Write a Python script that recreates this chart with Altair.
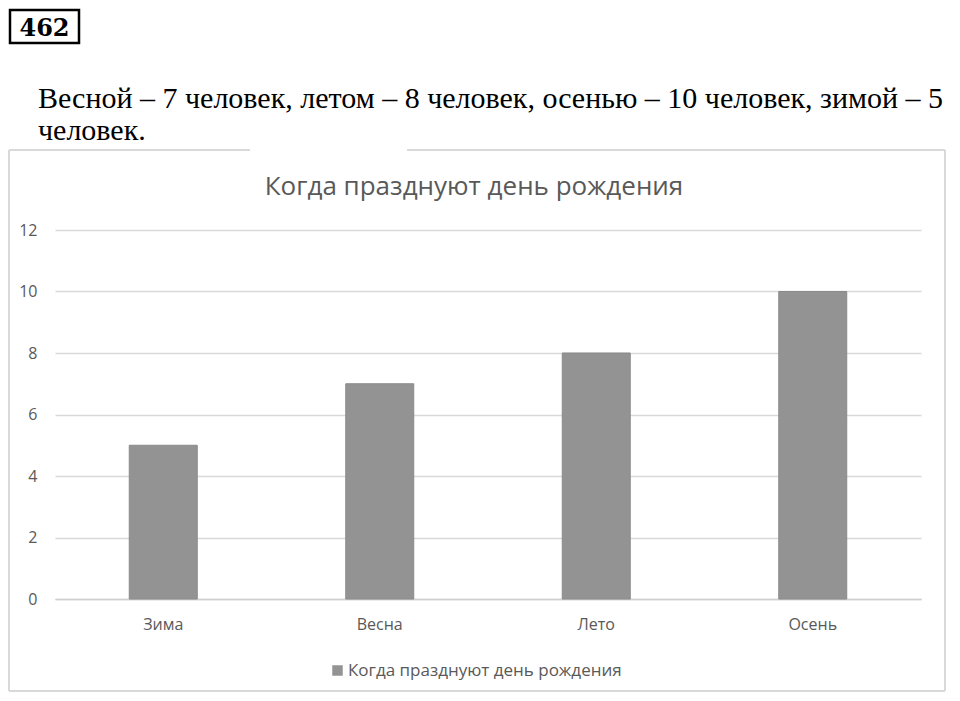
import pandas as pd
import altair as alt

SEASONS = ["Зима", "Весна", "Лето", "Осень"]
COUNTS = [5, 7, 8, 10]
SERIES = "Когда празднуют день рождения"
Y_TICKS = [0, 2, 4, 6, 8, 10, 12]

TASK_NUMBER = "462"
TEXT_LINE_1 = "Весной – 7 человек, летом – 8 человек, осенью – 10 человек, зимой – 5"
TEXT_LINE_2 = "человек."

BAR_COLOR = "#939393"
GRID_COLOR = "#d9d9d9"
LABEL_COLOR = "#595959"
FRAME_COLOR = "#d9d9d9"
SANS = "Open Sans"
SERIF = "Liberation Serif"

# plot area sits at (55, 230) on the page, 866 x 369
OX, OY = 55, 230
PLOT_W, PLOT_H = 866, 369


def text_layer(label, x, y, size, font, color="black", weight="normal", align="left"):
    # x, y in page pixels
    return (
        alt.Chart(pd.DataFrame({"label": [label]}))
        .mark_text(
            font=font, fontSize=size, fontWeight=weight, color=color,
            align=align, baseline="alphabetic",
        )
        .encode(x=alt.value(x - OX), y=alt.value(y - OY), text="label:N")
    )


def rule_layer(x, x2, y, y2, color, width):
    return (
        alt.Chart(pd.DataFrame({"k": [0]}))
        .mark_rule(color=color, strokeWidth=width)
        .encode(
            x=alt.value(x - OX), x2=alt.value(x2 - OX),
            y=alt.value(y - OY), y2=alt.value(y2 - OY),
        )
    )


df = pd.DataFrame({"season": SEASONS, "count": COUNTS, "series": [SERIES] * len(SEASONS)})

bars = (
    alt.Chart(df)
    .mark_bar(stroke="#8a8a8a", strokeWidth=1)
    .encode(
        x=alt.X("season:N", sort=SEASONS, title=None)
        .scale(paddingInner=0.686, paddingOuter=0.343)
        .axis(
            labelAngle=0, labelFont=SANS, labelFontSize=16, labelColor=LABEL_COLOR,
            ticks=False, domainColor="#cfcfcf", domainWidth=1.5, labelPadding=17,
        ),
        y=alt.Y("count:Q", title=None)
        .scale(domain=[0, 12])
        .axis(
            values=Y_TICKS, labelFont=SANS, labelFontSize=16, labelColor=LABEL_COLOR,
            ticks=False, domain=False, labelPadding=18,
            gridColor=GRID_COLOR, gridWidth=1.5,
        ),
        color=alt.Color("series:N", title=None)
        .scale(range=[BAR_COLOR])
        .legend(
            orient="none", legendX=274, legendY=432, direction="horizontal",
            symbolType="square", symbolSize=110, symbolStrokeWidth=0,
            labelFont=SANS, labelFontSize=17, labelColor=LABEL_COLOR,
            labelOffset=2, labelLimit=0,
        ),
    )
)

# frame around the chart (top edge broken, as on the page)
frame = [
    rule_layer(9, 9, 150, 691, FRAME_COLOR, 2),
    rule_layer(945, 945, 150, 691, FRAME_COLOR, 2),
    rule_layer(9, 945, 691, 691, FRAME_COLOR, 2),
    rule_layer(9, 250, 150, 150, FRAME_COLOR, 2),
    rule_layer(407, 945, 150, 150, FRAME_COLOR, 2),
]

number_box = (
    alt.Chart(pd.DataFrame({"k": [0]}))
    .mark_rect(fill="white", stroke="black", strokeWidth=2.5)
    .encode(
        x=alt.value(10 - OX), x2=alt.value(79 - OX),
        y=alt.value(10 - OY), y2=alt.value(43 - OY),
    )
)

texts = [
    text_layer(TASK_NUMBER, 44.5, 36, 24, "DejaVu Serif", weight="bold", align="center"),
    text_layer(TEXT_LINE_1, 38, 108, 30, SERIF),
    text_layer(TEXT_LINE_2, 38, 140, 30, SERIF),
    text_layer(SERIES, 474, 195, 26, SANS, color=LABEL_COLOR, align="center"),
]

chart = (
    alt.layer(*frame, number_box, *texts, bars)
    .properties(
        width=PLOT_W,
        height=PLOT_H,
        autosize=alt.AutoSizeParams(type="none"),
        padding={"left": OX - 8, "top": OY - 8, "right": 31, "bottom": 94},
        background="white",
    )
    .configure_view(stroke=None)
)

chart.save("out.html", embed_options={"renderer": "svg", "actions": False})
